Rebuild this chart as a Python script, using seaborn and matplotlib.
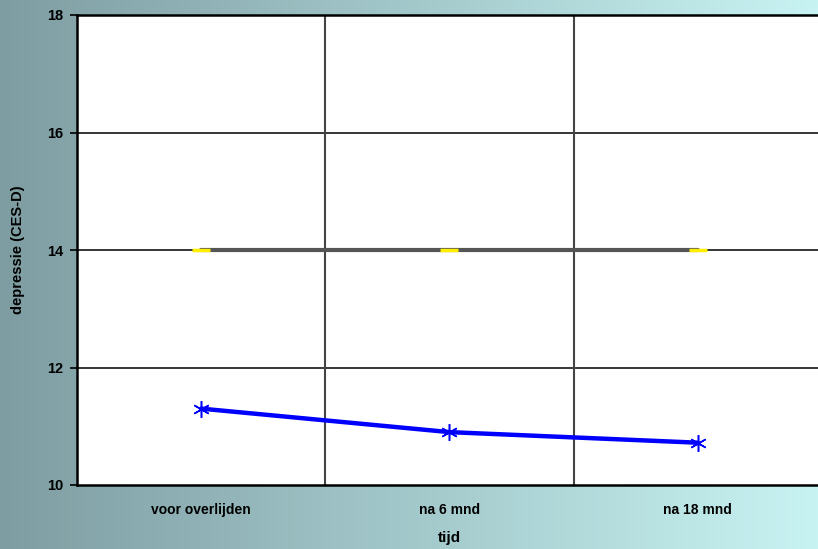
import numpy as np
import pandas as pd
import matplotlib
matplotlib.use("Agg")
import matplotlib.pyplot as plt
import seaborn as sns

categories = ["voor overlijden", "na 6 mnd", "na 18 mnd"]
reference = [14.0, 14.0, 14.0]
depressie = [11.3, 10.9, 10.72]
yticks = [10, 12, 14, 16, 18]

sns.set_style("white")
plt.rcParams['font.family'] = ['Liberation Sans', 'DejaVu Sans']
plt.rcParams['text.color'] = 'black'
plt.rcParams['axes.labelcolor'] = 'black'
plt.rcParams['xtick.color'] = 'black'
plt.rcParams['ytick.color'] = 'black'

fig = plt.figure(figsize=(8.18, 5.49), dpi=100)

# gradient background
bg = fig.add_axes([0, 0, 1, 1], zorder=-10)
c0 = np.array([0x7e, 0x9d, 0xa2]) / 255
c1 = np.array([0xc8, 0xf3, 0xf3]) / 255
t = np.linspace(0, 1, 256)
grad = (c0[None, :] * (1 - t[:, None]) + c1[None, :] * t[:, None])[None, :, :]
bg.imshow(grad, aspect='auto', extent=[0, 1, 0, 1])
bg.set_axis_off()

ax = fig.add_axes([77/818, 1 - 485/549, (822 - 77)/818, (485 - 15)/549])
ax.set_facecolor('white')

df = pd.DataFrame({"x": np.arange(len(categories)), "ref": reference, "dep": depressie})

sns.lineplot(data=df, x="x", y="ref", ax=ax, color="#555555", linewidth=3,
             marker="_", markersize=13, markeredgewidth=2.5,
             markeredgecolor="#ffee00", markerfacecolor="#ffee00", zorder=3)
sns.lineplot(data=df, x="x", y="dep", ax=ax, color="#0000ff", linewidth=3.2,
             marker=(6, 2, 0), markersize=12, markeredgewidth=1.1,
             markeredgecolor="#0000ff", zorder=4)

ax.set_xlim(-0.5, 2.5)
ax.set_ylim(10, 18)
ax.set_yticks(yticks)
ax.set_yticklabels([str(v) for v in yticks], fontweight='bold', fontsize=10.5)
ax.set_xticks(df["x"])
ax.set_xticklabels(categories, fontweight='bold', fontsize=10)
ax.tick_params(axis='x', length=0, pad=13, labelcolor='black')
ax.tick_params(axis='y', length=5, width=1.2, color='black', pad=5, left=True,
               direction='out', labelcolor='black')

for v in yticks[1:-1]:
    ax.axhline(v, color='black', linewidth=1.1, zorder=1)
for v in [0.5, 1.5]:
    ax.axvline(v, color='#444444', linewidth=1.5, zorder=1)

for s in ax.spines.values():
    s.set_color('black')
    s.set_linewidth(1.8)

ax.set_xlabel("tijd", fontweight='bold', fontsize=11, labelpad=10, color='black')
ax.set_ylabel("depressie (CES-D)", fontweight='bold', fontsize=10.5, labelpad=16, color='black')

fig.savefig("out.png", dpi=100)
